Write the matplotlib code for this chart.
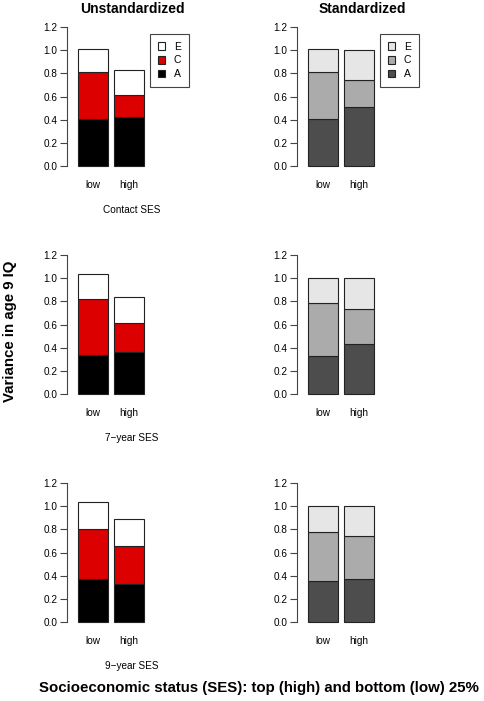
import matplotlib.pyplot as plt
from matplotlib.patches import Patch

plt.rcParams['font.family'] = ['Liberation Sans', 'DejaVu Sans']

# SES groups and panel labels
groups = ['low', 'high']
rows = ['Contact SES', '7\u2212year SES', '9\u2212year SES']

# Unstandardized variance components (one pair of values per row: low, high)
unstd_A = [[0.41, 0.42], [0.34, 0.36], [0.37, 0.33]]
unstd_C = [[0.40, 0.19], [0.48, 0.25], [0.43, 0.33]]
unstd_E = [[0.20, 0.22], [0.22, 0.23], [0.24, 0.23]]

# Standardized variance components
std_A = [[0.41, 0.51], [0.33, 0.43], [0.35, 0.37]]
std_C = [[0.40, 0.23], [0.46, 0.30], [0.43, 0.37]]
std_E = [[0.20, 0.26], [0.21, 0.27], [0.22, 0.26]]

unstd_colors = {'A': 'black', 'C': '#dd0000', 'E': 'white'}
std_colors = {'A': '#4d4d4d', 'C': '#ababab', 'E': '#e6e6e6'}

W, H = 484, 701
fig = plt.figure(figsize=(W / 100, H / 100), dpi=100)

# pixel geometry (R base graphics style panels)
px_per_unit = 115.8
zero_rows = [166, 394, 622]
left_cols = [67, 297]
ax_w = 130

x_pos = [0.7, 1.9]


def make_ax(col, row):
    y0 = zero_rows[row]
    top = y0 - 1.248 * px_per_unit
    bottom = y0 + 0.048 * px_per_unit
    ax = fig.add_axes([left_cols[col] / W, 1 - bottom / H, ax_w / W, (bottom - top) / H])
    ax.set_xlim(-0.16, 4.16)
    ax.set_ylim(-0.048, 1.248)
    for s in ['top', 'right', 'bottom']:
        ax.spines[s].set_visible(False)
    ax.spines['left'].set_bounds(0, 1.2)
    ax.spines['left'].set_color('#444444')
    ax.spines['left'].set_linewidth(0.8)
    ax.set_yticks([0, 0.2, 0.4, 0.6, 0.8, 1.0, 1.2])
    ax.set_yticklabels(['0.0', '0.2', '0.4', '0.6', '0.8', '1.0', '1.2'])
    ax.tick_params(axis='y', length=5, width=0.8, color='#444444', labelsize=7.2, pad=2)
    ax.set_xticks(x_pos)
    ax.set_xticklabels(groups)
    ax.tick_params(axis='x', length=0, labelsize=7.2, pad=6)
    return ax


for r in range(3):
    for c, (A, C, E, cols) in enumerate([(unstd_A, unstd_C, unstd_E, unstd_colors),
                                          (std_A, std_C, std_E, std_colors)]):
        ax = make_ax(c, r)
        a = A[r]
        cc = C[r]
        e = E[r]
        ax.bar(x_pos, a, width=1.0, color=cols['A'], edgecolor='#222222', linewidth=0.8)
        ax.bar(x_pos, cc, width=1.0, bottom=a, color=cols['C'], edgecolor='#222222', linewidth=0.8)
        ax.bar(x_pos, e, width=1.0, bottom=[a[i] + cc[i] for i in range(2)],
               color=cols['E'], edgecolor='#222222', linewidth=0.8)
        if c == 0:
            ax.set_xlabel(rows[r], fontsize=7.2, labelpad=11)
        if r == 0:
            # column titles
            cx = (left_cols[c] + ax_w / 2) / W
            fig.text(cx, 1 - 9 / H, 'Unstandardized' if c == 0 else 'Standardized',
                     ha='center', va='center', fontsize=10, fontweight='bold')
            handles = [Patch(facecolor=cols[k], edgecolor='#222222', linewidth=0.8, label=k)
                       for k in ['E', 'C', 'A']]
            right_px = 189 if c == 0 else 419
            leg = ax.legend(handles=handles, loc='upper right',
                            bbox_to_anchor=(right_px / W, 1 - 34 / H),
                            bbox_transform=fig.transFigure,
                            fontsize=7.5, handlelength=0.75, handleheight=0.75,
                            handletextpad=0.8, labelspacing=0.35,
                            borderpad=0.75, borderaxespad=0,
                            fancybox=False, framealpha=1)
            leg.get_frame().set_edgecolor('#444444')
            leg.get_frame().set_linewidth(0.8)

fig.text(10 / W, 1 - 331 / H, 'Variance in age 9 IQ', rotation=90,
         ha='center', va='center', fontsize=10.8, fontweight='bold')
fig.text(259 / W, 1 - 688 / H, 'Socioeconomic status (SES): top (high) and bottom (low) 25%',
         ha='center', va='center', fontsize=10.8, fontweight='bold')

fig.savefig('out.png', dpi=100)
